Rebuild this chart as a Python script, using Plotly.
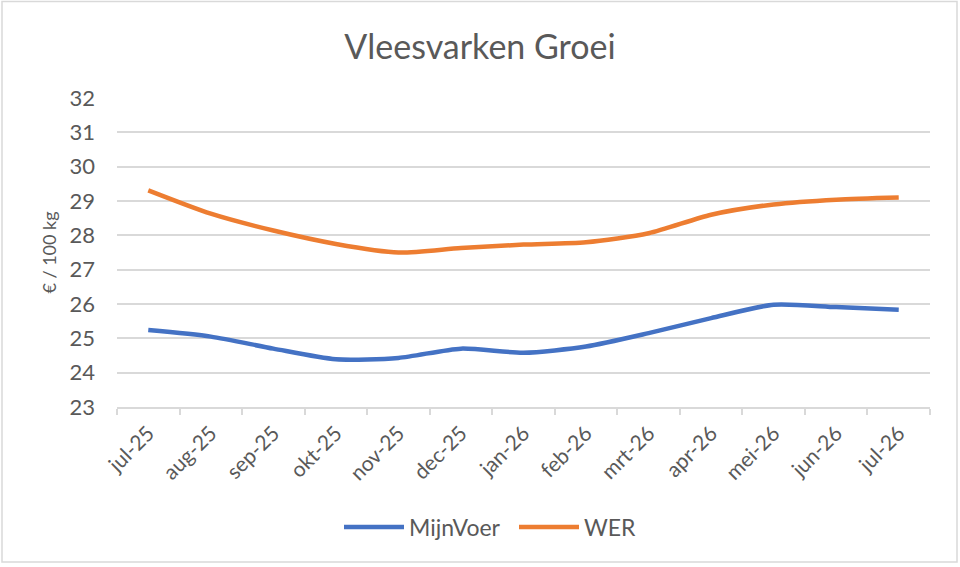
import plotly.graph_objects as go

months = ["jul-25", "aug-25", "sep-25", "okt-25", "nov-25", "dec-25", "jan-26",
          "feb-26", "mrt-26", "apr-26", "mei-26", "jun-26", "jul-26"]
mijnvoer = [25.24, 25.05, 24.70, 24.39, 24.43, 24.70, 24.58, 24.76, 25.15, 25.59, 25.98, 25.91, 25.83]
wer = [29.31, 28.63, 28.14, 27.75, 27.50, 27.63, 27.73, 27.80, 28.06, 28.60, 28.90, 29.04, 29.10]

FONT = "Lato, 'Open Sans', sans-serif"
GREY = "#595959"

fig = go.Figure()
fig.add_trace(go.Scatter(x=months, y=mijnvoer, name="MijnVoer", mode="lines",
                         line=dict(color="#4472C4", width=4.5, shape="spline", smoothing=0.7)))
fig.add_trace(go.Scatter(x=months, y=wer, name="WER", mode="lines",
                         line=dict(color="#ED7D31", width=4.5, shape="spline", smoothing=0.7)))

L, R, T, B = 117, 30, 98, 160
W, H = 960, 567
pw, ph = W - L - R, H - T - B

def px_x(p):
    return (p - L) / pw

def px_y(p):
    return (H - B - p) / ph

fig.update_layout(
    width=W, height=H,
    margin=dict(l=L, r=R, t=T, b=B),
    paper_bgcolor="white", plot_bgcolor="white",
    font=dict(family=FONT, color=GREY, size=20),
    title=dict(text="Vleesvarken Groei", x=0.5, xanchor="center",
               y=1 - 47 / H, yanchor="middle",
               font=dict(size=34, color=GREY, family=FONT)),
    showlegend=True,
    legend=dict(orientation="h", x=px_x(514), xanchor="center", y=px_y(527), yanchor="middle",
                font=dict(size=23, color=GREY), traceorder="normal", itemwidth=60,
                entrywidth=100, entrywidthmode="pixels"),
    xaxis=dict(type="category", tickangle=-45, showgrid=False, range=[-0.5, 12.5],
               showline=True, linecolor="#d9d9d9", linewidth=1.5,
               ticks="outside", tickson="boundaries", ticklen=6, tickcolor="#d9d9d9",
               tickwidth=1.5, tickfont=dict(size=21, color=GREY), ticklabelstandoff=4,
               fixedrange=True),
    yaxis=dict(range=[23, 32], dtick=1, showgrid=True, gridcolor="#d9d9d9", gridwidth=1.5,
               zeroline=False, showline=False, ticks="", ticklabelstandoff=21,
               tickfont=dict(size=22, color=GREY),
               title=dict(text="€ / 100 kg", font=dict(size=18, color=GREY), standoff=8)),
    shapes=[dict(type="rect", xref="paper", yref="paper",
                 x0=px_x(2), x1=px_x(957), y0=px_y(562), y1=px_y(1.5),
                 line=dict(color="#d9d9d9", width=1.5), layer="below")],
)

fig.write_html("out.html", config={"displayModeBar": False},
               post_script="document.body.style.margin='0';")
